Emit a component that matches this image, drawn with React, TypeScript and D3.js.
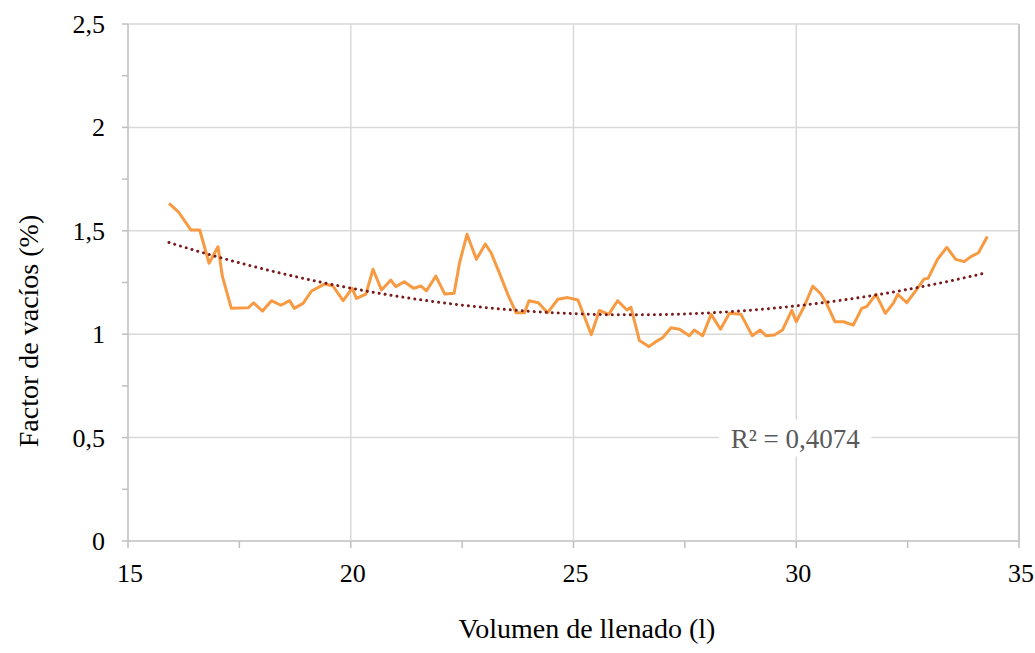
import React from "react";
import * as d3 from "d3";

// Filling volume (l)
const volume: number[] = [
  15.92, 16.13, 16.41, 16.61, 16.82, 17.02, 17.12, 17.32, 17.7, 17.82,
  18.02, 18.22, 18.43, 18.63, 18.73, 18.93, 19.12, 19.42, 19.6, 19.83,
  20.03, 20.13, 20.34, 20.5, 20.69, 20.9, 21.01, 21.2, 21.41, 21.58,
  21.7, 21.91, 22.11, 22.32, 22.44, 22.61, 22.82, 23.02, 23.15, 23.34,
  23.53, 23.71, 23.9, 24.0, 24.21, 24.42, 24.65, 24.87, 25.1, 25.4,
  25.58, 25.79, 25.99, 26.2, 26.29, 26.48, 26.69, 26.85, 27.0, 27.19,
  27.38, 27.6, 27.71, 27.9, 28.09, 28.3, 28.5, 28.76, 29.01, 29.19,
  29.32, 29.51, 29.69, 29.9, 30.0, 30.18, 30.37, 30.54, 30.66, 30.87,
  31.06, 31.28, 31.47, 31.58, 31.79, 32.0, 32.18, 32.28, 32.48, 32.68,
  32.87, 32.96, 33.17, 33.38, 33.58, 33.77, 33.92, 34.09, 34.29,
];

// Void factor (%)
const voidFactor: number[] = [
  1.633, 1.592, 1.504, 1.504, 1.343, 1.423, 1.278, 1.125, 1.128, 1.152,
  1.112, 1.162, 1.14, 1.162, 1.125, 1.149, 1.209, 1.243, 1.233, 1.162,
  1.222, 1.173, 1.194, 1.314, 1.214, 1.262, 1.23, 1.254, 1.222, 1.233,
  1.21, 1.281, 1.194, 1.198, 1.343, 1.483, 1.362, 1.436, 1.394, 1.294,
  1.19, 1.104, 1.104, 1.162, 1.152, 1.104, 1.169, 1.177, 1.165, 0.998,
  1.115, 1.096, 1.162, 1.117, 1.13, 0.969, 0.94, 0.964, 0.983, 1.031,
  1.024, 0.993, 1.02, 0.993, 1.096, 1.024, 1.101, 1.096, 0.993, 1.02,
  0.993, 0.996, 1.02, 1.115, 1.06, 1.135, 1.232, 1.198, 1.157, 1.06,
  1.06, 1.044, 1.125, 1.133, 1.193, 1.101, 1.15, 1.193, 1.152, 1.21,
  1.267, 1.27, 1.362, 1.42, 1.362, 1.351, 1.375, 1.394, 1.472,
];

const xTicks: number[] = [15, 20, 25, 30, 35];
const yTicks: number[] = [0, 0.5, 1, 1.5, 2, 2.5];
const rSquaredLabel = "R² = 0,4074";

const W = 1035;
const H = 653;
const M = { left: 128, right: 1019, top: 24, bottom: 541 };
const FONT = "'Liberation Serif', 'Times New Roman', serif";
const GRID = "#d9d9d9";
const AXIS = "#bfbfbf";
const TICK_FS = 26;
const TITLE_FS = 28;

// Least-squares quadratic fit y = a + b x + c x^2
function quadFit(xs: number[], ys: number[]): [number, number, number] {
  const s = [0, 0, 0, 0, 0];
  const t = [0, 0, 0];
  xs.forEach((x, i) => {
    let p = 1;
    for (let k = 0; k < 5; k++) {
      s[k] += p;
      if (k < 3) t[k] += p * ys[i];
      p *= x;
    }
  });
  const A = [
    [s[0], s[1], s[2], t[0]],
    [s[1], s[2], s[3], t[1]],
    [s[2], s[3], s[4], t[2]],
  ];
  for (let i = 0; i < 3; i++) {
    for (let j = i + 1; j < 3; j++) {
      const f = A[j][i] / A[i][i];
      for (let k = i; k < 4; k++) A[j][k] -= f * A[i][k];
    }
  }
  const r = [0, 0, 0];
  for (let i = 2; i >= 0; i--) {
    let v = A[i][3];
    for (let k = i + 1; k < 3; k++) v -= A[i][k] * r[k];
    r[i] = v / A[i][i];
  }
  return [r[0], r[1], r[2]];
}

const fmt = (v: number) => String(v).replace(".", ",");

export default function App() {
  const x = d3.scaleLinear().domain([15, 35]).range([M.left, M.right]);
  const y = d3.scaleLinear().domain([0, 2.5]).range([M.bottom, M.top]);

  const pts = volume.map((v, i) => [v, voidFactor[i]] as [number, number]);
  const line = d3
    .line<[number, number]>()
    .x((d) => x(d[0]))
    .y((d) => y(d[1]));

  const [a, b, c] = quadFit(volume, voidFactor);
  const x0 = volume[0];
  const x1 = volume[volume.length - 1];
  const trendPts: [number, number][] = d3.range(0, 201).map((i) => {
    const xv = x0 + ((x1 - x0) * i) / 200;
    return [xv, a + b * xv + c * xv * xv];
  });

  const minorY = d3.range(0, 2.5001, 0.25);
  const minorX = d3.range(15, 35.001, 2.5);

  const labelX = x(30) - 1;
  const labelY = y(0.5);

  return (
    <svg
      width={W}
      height={H}
      style={{ position: "absolute", left: 0, top: 0, background: "#fff" }}
    >
      {/* horizontal gridlines */}
      {yTicks.map((t) => (
        <line
          key={"gy" + t}
          x1={M.left}
          x2={M.right}
          y1={y(t)}
          y2={y(t)}
          stroke={t === 0 ? AXIS : GRID}
          strokeWidth={1.5}
        />
      ))}
      {/* vertical gridlines */}
      {xTicks.slice(1).map((t) => (
        <line
          key={"gx" + t}
          x1={x(t)}
          x2={x(t)}
          y1={M.top}
          y2={M.bottom}
          stroke={t === 35 ? "#c8c8c8" : GRID}
          strokeWidth={t === 35 ? 2 : 1.5}
        />
      ))}
      {/* y axis */}
      <line x1={M.left} x2={M.left} y1={M.top} y2={M.bottom} stroke={AXIS} strokeWidth={1.5} />
      {minorY.map((t) => (
        <line
          key={"ty" + t}
          x1={M.left - 6}
          x2={M.left}
          y1={y(t)}
          y2={y(t)}
          stroke={AXIS}
          strokeWidth={1.5}
        />
      ))}
      {minorX.map((t) => (
        <line
          key={"tx" + t}
          x1={x(t)}
          x2={x(t)}
          y1={M.bottom}
          y2={M.bottom + 7}
          stroke={AXIS}
          strokeWidth={1.5}
        />
      ))}
      {/* tick labels */}
      {yTicks.map((t) => (
        <text
          key={"ly" + t}
          x={M.left - 23}
          y={y(t) + 9}
          textAnchor="end"
          fontFamily={FONT}
          fontSize={TICK_FS}
          fill="#000"
        >
          {fmt(t)}
        </text>
      ))}
      {xTicks.map((t) => (
        <text
          key={"lx" + t}
          x={x(t) + 2}
          y={582}
          textAnchor="middle"
          fontFamily={FONT}
          fontSize={TICK_FS}
          fill="#000"
        >
          {t}
        </text>
      ))}
      {/* axis titles */}
      <text
        transform="translate(38, 331) rotate(-90)"
        textAnchor="middle"
        fontFamily={FONT}
        fontSize={TITLE_FS}
        fill="#000"
      >
        Factor de vacíos (%)
      </text>
      <text
        x={587}
        y={638}
        textAnchor="middle"
        fontFamily={FONT}
        fontSize={TITLE_FS}
        fill="#000"
      >
        Volumen de llenado (l)
      </text>
      {/* data series */}
      <path
        d={line(pts) ?? ""}
        fill="none"
        stroke="#F79A42"
        strokeWidth={3}
        strokeLinejoin="round"
      />
      {/* polynomial trendline */}
      <path
        d={line(trendPts) ?? ""}
        fill="none"
        stroke="#7A1A1A"
        strokeWidth={3}
        strokeLinecap="round"
        strokeDasharray="0.01 6"
      />
      {/* R² label */}
      <rect x={labelX - 76} y={labelY - 18} width={152} height={37} fill="#fff" />
      <text
        x={labelX}
        y={labelY + 10}
        textAnchor="middle"
        fontFamily={FONT}
        fontSize={27}
        fill="#595959"
      >
        {rSquaredLabel}
      </text>
    </svg>
  );
}
